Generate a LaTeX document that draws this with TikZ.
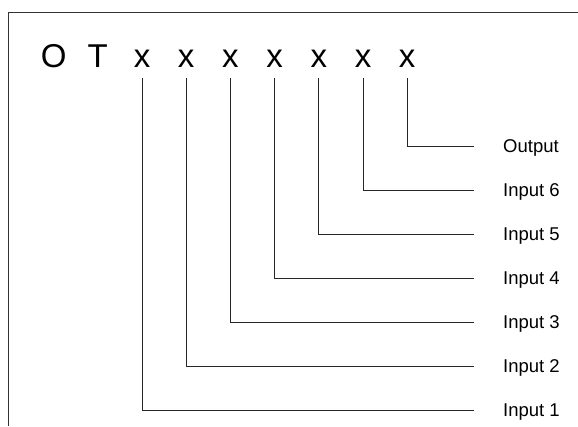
\documentclass[tikz,border=0pt]{standalone}
\usepackage{fontspec}
\setmainfont{Liberation Sans}
\usetikzlibrary{calc}
\begin{document}
\begin{tikzpicture}[x=1pt,y=1pt,
  big/.style={inner sep=0pt, anchor=base, font=\fontsize{33}{36}\selectfont},
  lab/.style={inner sep=0pt, anchor=base west, font=\fontsize{18.5}{20}\selectfont},
  wire/.style={draw=black!85, line width=0.9pt},
  frame/.style={draw=black!80, line width=1pt}]
\useasboundingbox (0,0) rectangle (578,-426);
\draw[frame] (578,-12) -- (8,-12) -- (8,-426);
\node[big] (o) at (53.6,-67) {O};
\node[big] (t) at (97.8,-67) {T};
\foreach \i/\x in {1/142,2/186.2,3/230.4,4/274.6,5/318.8,6/363,7/407.2}{
  \node[big] (x\i) at (\x,-67) {x};
}
\foreach \i/\y/\t in {1/410/Input 1,2/366/Input 2,3/322/Input 3,4/278/Input 4,5/234/Input 5,6/190/Input 6,7/146/Output}{
  \node[lab] (l\i) at (503,-\y-6.5) {\t};
  \coordinate (e\i) at (474,-\y);
  \draw[wire] ($(x\i.base)+(0,-11)$) |- (e\i);
}
\end{tikzpicture}
\end{document}
